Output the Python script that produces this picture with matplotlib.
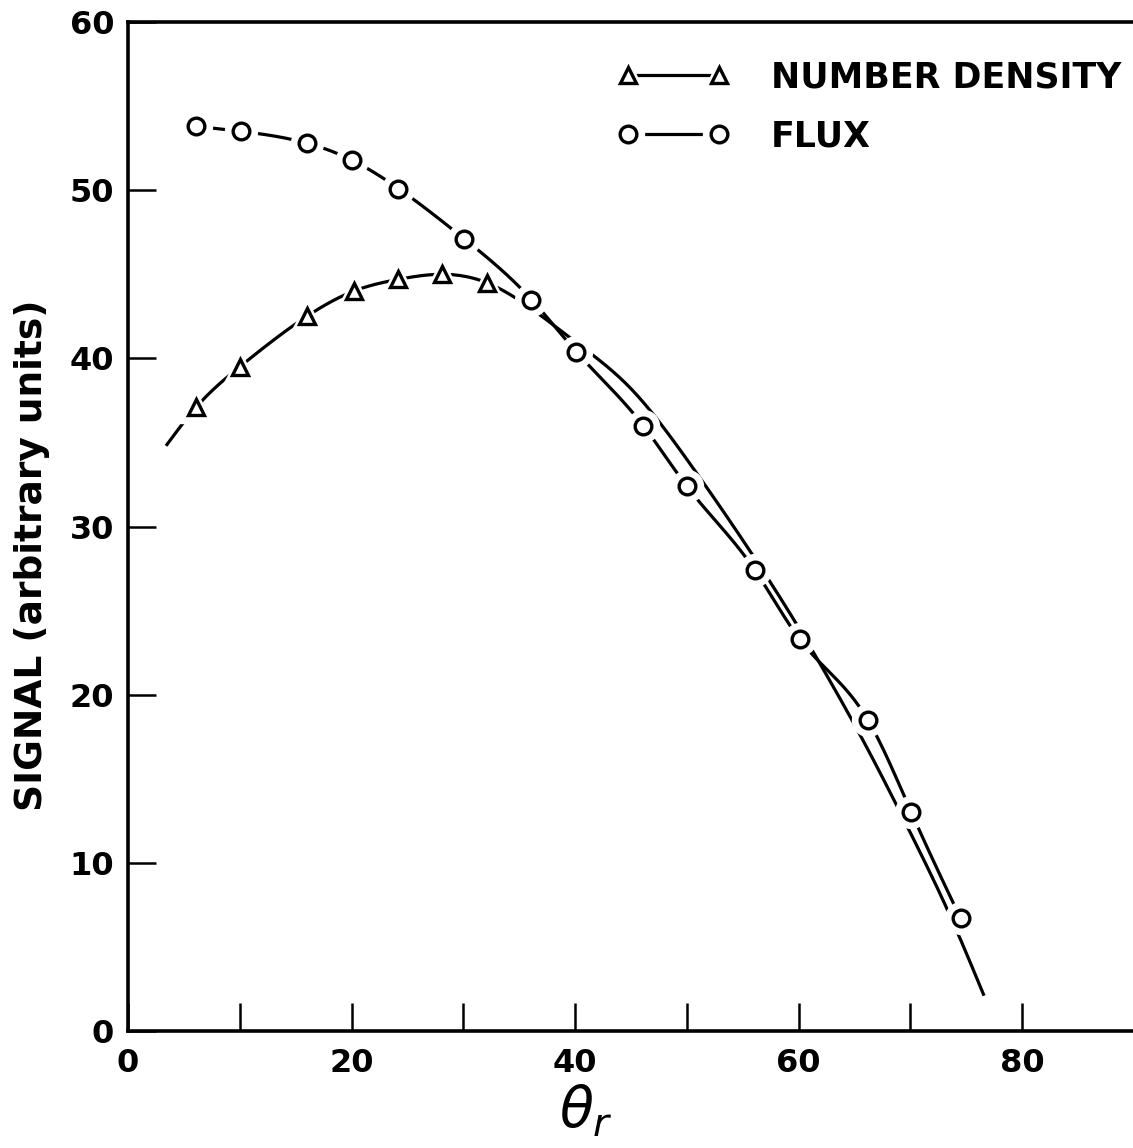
import numpy as np
import matplotlib
matplotlib.use('Agg')
import matplotlib.pyplot as plt
from matplotlib.lines import Line2D
from matplotlib.legend_handler import HandlerTuple

plt.rcParams['font.family'] = ['DejaVu Sans']

# number density: measured points (triangles)
nd_theta = [6.1, 10.0, 16.0, 20.2, 24.2, 28.1, 32.1]
nd_signal = [37.1, 39.5, 42.5, 44.0, 44.7, 45.0, 44.5]
# number density: drawn curve through the points and beyond
nd_curve_theta = [3.4, 6.1, 10.0, 16.0, 20.2, 24.2, 28.1, 32.1, 36.0, 40.0,
                  45.0, 50.0, 55.0, 60.0, 63.0, 66.0, 70.0, 73.6, 76.6]
nd_curve_signal = [34.8, 37.1, 39.5, 42.5, 44.0, 44.7, 45.0, 44.5, 43.0, 41.0,
                   38.2, 34.0, 29.2, 24.0, 20.6, 17.0, 11.8, 6.8, 2.1]

# flux: measured points (circles), curve drawn through them
flux_theta = [6.1, 10.1, 16.0, 20.0, 24.2, 30.1, 36.1, 40.1, 46.1, 50.0,
              56.1, 60.1, 66.2, 70.1, 74.5]
flux_signal = [53.8, 53.5, 52.8, 51.8, 50.1, 47.1, 43.5, 40.4, 36.0, 32.4,
               27.4, 23.3, 18.5, 13.0, 6.7]

x_ticks = [0, 10, 20, 30, 40, 50, 60, 70, 80]
x_tick_labels = ['0', '', '20', '', '40', '', '60', '', '80']
y_ticks = [0, 10, 20, 30, 40, 50, 60]


def smooth(xs, ys, n=400):
    """Natural cubic spline y(x) through the nodes."""
    xs = np.asarray(xs, float)
    ys = np.asarray(ys, float)
    k = len(xs)
    h = np.diff(xs)
    A = np.zeros((k, k))
    b = np.zeros(k)
    A[0, 0] = A[-1, -1] = 1.0
    for i in range(1, k - 1):
        A[i, i - 1] = h[i - 1]
        A[i, i] = 2 * (h[i - 1] + h[i])
        A[i, i + 1] = h[i]
        b[i] = 6 * ((ys[i + 1] - ys[i]) / h[i] - (ys[i] - ys[i - 1]) / h[i - 1])
    m = np.linalg.solve(A, b)
    xx = np.linspace(xs[0], xs[-1], n)
    j = np.clip(np.searchsorted(xs, xx) - 1, 0, k - 2)
    t0 = xs[j + 1] - xx
    t1 = xx - xs[j]
    hj = h[j]
    yy = (m[j] * t0 ** 3 / (6 * hj) + m[j + 1] * t1 ** 3 / (6 * hj)
          + (ys[j] / hj - m[j] * hj / 6) * t0 + (ys[j + 1] / hj - m[j + 1] * hj / 6) * t1)
    return xx, yy


fig = plt.figure(figsize=(11.33, 11.48), dpi=100)
ax = fig.add_axes([0.1130, 0.1019, 0.8877, 0.8789])

lw = 2.3
ms = 12
gap_ms = 23

x, y = smooth(nd_curve_theta, nd_curve_signal)
ax.plot(x, y, color='black', lw=lw, zorder=2, solid_capstyle='butt')
x, y = smooth(flux_theta, flux_signal)
ax.plot(x, y, color='black', lw=lw, zorder=2, solid_capstyle='butt')

# white patches under markers leave a gap in the curves
ax.plot(nd_theta, nd_signal, ls='none', marker='^', ms=gap_ms, mfc='white', mec='white', zorder=3)
ax.plot(flux_theta, flux_signal, ls='none', marker='o', ms=gap_ms, mfc='white', mec='white', zorder=3)
ax.plot(nd_theta, nd_signal, ls='none', marker='^', ms=ms, mfc='white', mec='black', mew=2.4, zorder=4)
ax.plot(flux_theta, flux_signal, ls='none', marker='o', ms=ms, mfc='white', mec='black', mew=2.4, zorder=4)

ax.set_xlim(0, 90)
ax.set_ylim(0, 60)
ax.set_xticks(x_ticks)
ax.set_xticklabels(x_tick_labels)
ax.set_yticks(y_ticks)
ax.tick_params(direction='in', length=20, width=1.8, labelsize=23, pad=10)
ax.tick_params(axis='x', pad=12)
for lab in ax.get_xticklabels() + ax.get_yticklabels():
    lab.set_fontweight('bold')
for side in ['left', 'bottom', 'top']:
    ax.spines[side].set_linewidth(2.6)
ax.spines['right'].set_linewidth(1.0)

ax.set_ylabel('SIGNAL (arbitrary units)', fontsize=27, fontweight='bold')
ax.yaxis.set_label_coords(-0.078, 0.472)
ax.set_xlabel(r'$\theta_r$', fontsize=40)
ax.xaxis.set_label_coords(0.455, -0.052)


def legend_handle(marker):
    line = Line2D([], [], color='black', lw=lw)
    under = Line2D([], [], ls='none', marker=marker, ms=gap_ms, mfc='white', mec='white')
    mark = Line2D([], [], ls='none', marker=marker, ms=ms, mfc='white', mec='black', mew=2.4)
    return (line, under, mark)


ax.legend([legend_handle('^'), legend_handle('o')], ['NUMBER DENSITY', 'FLUX'],
          handler_map={tuple: HandlerTuple(ndivide=1, pad=0)},
          loc='upper left', bbox_to_anchor=(0.487, 0.962), frameon=False,
          numpoints=2, handlelength=3.2, handletextpad=1.2, labelspacing=0.72,
          borderpad=0, borderaxespad=0,
          prop={'size': 25, 'weight': 'bold'})

fig.savefig('out.png', dpi=100)
